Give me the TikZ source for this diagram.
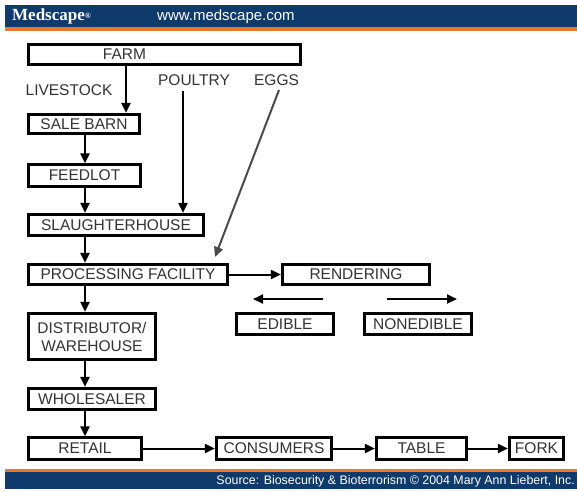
\documentclass[tikz,border=0pt]{standalone}
\usepackage{fontspec}
\setmainfont{Liberation Sans}
\newfontfamily\seriffont{Liberation Serif}
\usetikzlibrary{arrows.meta}
\definecolor{navy}{HTML}{0E3A6C}
\definecolor{orng}{HTML}{E8782A}
\definecolor{txt}{HTML}{333333}
\definecolor{eggline}{HTML}{4A4A4A}
\begin{document}
\begin{tikzpicture}[x=1pt,y=-1pt,
  box/.style={draw=black, line width=2.7pt, inner sep=0pt, text=txt, align=center,
    font=\fontsize{15.5}{18}\selectfont},
  lbl/.style={inner sep=0pt, text=txt, font=\fontsize{15.5}{18}\selectfont},
  arr/.style={draw=black, line width=2pt, -{Triangle[length=10pt,width=9pt]}},
  thickarr/.style={arr, line width=2.7pt},
  band/.style={fill=navy, draw=none},
  stripe/.style={fill=orng, draw=none}]
\useasboundingbox (0,0) rectangle (577,491);
\fill[white] (0,0) rectangle (577,491);
% header
\fill[band] (5,5) rectangle (577,27);
\fill[stripe] (5,27) rectangle (577,30.5);
\node[anchor=west, inner sep=0pt, text=white, font=\seriffont\bfseries\fontsize{17}{20}\selectfont] (brand) at (12,16.5) {Medscape\raisebox{0.25ex}{\fontsize{8}{8}\selectfont\textregistered}};
\node[anchor=west, inner sep=0pt, text=white, font=\fontsize{15}{18}\selectfont] (url) at (157,17) {www.medscape.com};
% footer
\fill[stripe] (5,468.5) rectangle (577,471.5);
\fill[band] (5,471.5) rectangle (577,489);
\node[anchor=east, inner sep=0pt, text=white, font=\fontsize{12.4}{14}\selectfont] (src) at (575,481) {Source: Biosecurity \& Bioterrorism \textcopyright{} 2004 Mary Ann Liebert, Inc.};
% boxes
\node[box, minimum width=272.5pt, minimum height=20.5pt] (farm) at (164.5,54.5) {FARM\hspace*{80pt}};
\node[box, minimum width=111.5pt, minimum height=19.5pt] (salebarn) at (84,124) {SALE BARN};
\node[box, minimum width=112.5pt, minimum height=21.5pt] (feedlot) at (84.5,175.5) {FEEDLOT};
\node[box, minimum width=175.5pt, minimum height=21.5pt] (slaughter) at (116,225) {SLAUGHTERHOUSE};
\node[box, minimum width=199.5pt, minimum height=20.5pt] (proc) at (128,274.5) {PROCESSING FACILITY};
\node[box, minimum width=147.5pt, minimum height=20.5pt] (rendering) at (356,274.5) {RENDERING};
\node[box, minimum width=97.5pt, minimum height=21.5pt] (edible) at (285,324) {EDIBLE};
\node[box, minimum width=107.5pt, minimum height=21.5pt] (nonedible) at (418,324) {NONEDIBLE};
\node[box, minimum width=127.5pt, minimum height=46.5pt] (distrib) at (92,336.5) {DISTRIBUTOR/\\WAREHOUSE};
\node[box, minimum width=127.5pt, minimum height=21.5pt] (wholesaler) at (92,399) {WHOLESALER};
\node[box, minimum width=113.5pt, minimum height=21.5pt] (retail) at (85,448.5) {RETAIL};
\node[box, minimum width=115.5pt, minimum height=21.5pt] (consumers) at (274,448.5) {CONSUMERS};
\node[box, minimum width=90.5pt, minimum height=21.5pt] (table) at (421.5,448.5) {TABLE};
\node[box, minimum width=54.5pt, minimum height=21.5pt] (fork) at (536.5,448.5) {FORK};
% labels
\node[lbl] (livestock) at (69,90) {LIVESTOCK};
\node[lbl] (poultry) at (194,80) {POULTRY};
\node[lbl] (eggs) at (276.5,80) {EGGS};
% helper coordinates
\coordinate (ls) at (126,0);
\coordinate (spine) at (85,0);
\coordinate (px) at (183,0);
\coordinate (eggstart) at (279,90);
\coordinate (eggtip) at (215,257);
\coordinate (edA) at (323,299);
\coordinate (edB) at (253,299);
\coordinate (neA) at (387,299);
\coordinate (neB) at (457,299);
% connectors
\draw[thickarr] (ls |- farm.south) -- (ls |- salebarn.north);
\draw[arr] (spine |- salebarn.south) -- (spine |- feedlot.north);
\draw[arr] (spine |- feedlot.south) -- (spine |- slaughter.north);
\draw[arr] (spine |- slaughter.south) -- (spine |- proc.north);
\draw[arr] (spine |- proc.south) -- (spine |- distrib.north);
\draw[arr] (spine |- distrib.south) -- (spine |- wholesaler.north);
\draw[arr] (spine |- wholesaler.south) -- (spine |- retail.north);
\draw[arr] (px |- poultry.south) ++(0,5) -- (px |- slaughter.north);
\draw[arr, draw=eggline, fill=eggline] (eggstart) -- (eggtip);
\draw[arr] (proc.east) -- (rendering.west);
\draw[arr] (edA) -- (edB);
\draw[arr] (neA) -- (neB);
\draw[arr] (retail.east) -- (consumers.west);
\draw[arr] (consumers.east) -- (table.west);
\draw[arr] (table.east) -- (fork.west);
\end{tikzpicture}
\end{document}
